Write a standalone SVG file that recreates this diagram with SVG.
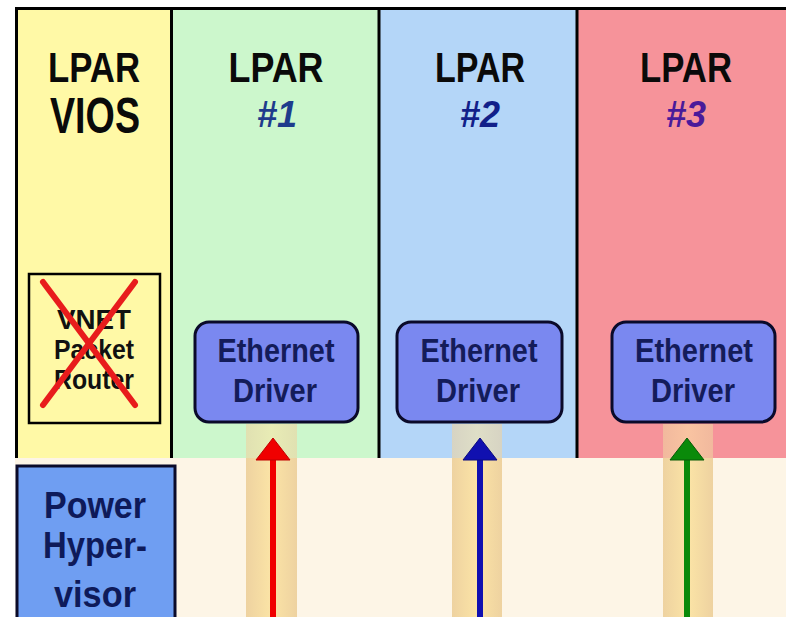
<svg xmlns="http://www.w3.org/2000/svg" width="786" height="617" viewBox="0 0 786 617">
<style>
.t{font-family:"Liberation Sans",Arial,sans-serif;font-weight:bold;text-anchor:middle}
.lp{font-size:42px;fill:#0a0a0a}
.num{font-size:36px;font-style:italic}
.eth{font-size:33px;fill:#141c5a}
.vn{font-size:27px;fill:#111}
.box{fill:#7a88f0;stroke:#0a0a2a;stroke-width:3}
.sep{stroke:#000;stroke-width:3}
</style>
<defs>
<linearGradient id="glow" x1="0" y1="0" x2="1" y2="0">
<stop offset="0" stop-color="#eed2a0"/>
<stop offset="0.5" stop-color="#fbe4a6"/>
<stop offset="1" stop-color="#eed2a0"/>
</linearGradient>
</defs>
<rect x="0" y="0" width="786" height="617" fill="#ffffff"/>
<rect x="15" y="458" width="771" height="159" fill="#fdf5e6"/>
<g id="col-vios">
<rect x="17" y="9" width="154" height="449" fill="#fff9a6"/>
<text class="t lp" x="94" y="82" textLength="92" lengthAdjust="spacingAndGlyphs">LPAR</text>
<text class="t" x="95" y="133" font-size="50" fill="#0a0a0a" textLength="90" lengthAdjust="spacingAndGlyphs">VIOS</text>
</g>
<g id="col-1">
<rect x="172" y="9" width="207" height="449" fill="#ccf7cc"/>
<text class="t lp" x="276" y="82" textLength="95" lengthAdjust="spacingAndGlyphs">LPAR</text>
<text class="t num" x="277" y="127" fill="#1e3c8c">#1</text>
</g>
<g id="col-2">
<rect x="380" y="9" width="197" height="449" fill="#b4d6f8"/>
<text class="t lp" x="480" y="82" textLength="90" lengthAdjust="spacingAndGlyphs">LPAR</text>
<text class="t num" x="480" y="127" fill="#12208a">#2</text>
</g>
<g id="col-3">
<rect x="578" y="9" width="208" height="449" fill="#f6939a"/>
<text class="t lp" x="686" y="82" textLength="92" lengthAdjust="spacingAndGlyphs">LPAR</text>
<text class="t num" x="686" y="127" fill="#4a1a9a">#3</text>
</g>
<g id="frame">
<line class="sep" x1="15" y1="8.5" x2="786" y2="8.5"/>
<line class="sep" x1="16.5" y1="7" x2="16.5" y2="458"/>
<line class="sep" x1="171.5" y1="7" x2="171.5" y2="458"/>
<line class="sep" x1="379" y1="7" x2="379" y2="458"/>
<line class="sep" x1="577" y1="7" x2="577" y2="458"/>
</g>
<g id="stripes">
<rect x="246" y="424" width="51" height="34" fill="url(#glow)" opacity="0.6"/>
<rect x="246" y="458" width="51" height="159" fill="url(#glow)"/>
<rect x="452" y="424" width="50" height="34" fill="url(#glow)" opacity="0.6"/>
<rect x="452" y="458" width="50" height="159" fill="url(#glow)"/>
<rect x="663" y="424" width="50" height="34" fill="url(#glow)" opacity="0.6"/>
<rect x="663" y="458" width="50" height="159" fill="url(#glow)"/>
</g>
<g id="vnet-router">
<rect x="29" y="274" width="131" height="149" fill="none" stroke="#000" stroke-width="2.5"/>
<text class="t vn" x="94" y="329" textLength="74" lengthAdjust="spacingAndGlyphs">VNET</text>
<text class="t vn" x="94" y="359" textLength="80" lengthAdjust="spacingAndGlyphs">Packet</text>
<text class="t vn" x="94" y="389" textLength="80" lengthAdjust="spacingAndGlyphs">Router</text>
<line x1="43" y1="282" x2="135" y2="405" stroke="#e81c1c" stroke-width="6" stroke-linecap="round"/>
<line x1="135" y1="282" x2="43" y2="405" stroke="#e81c1c" stroke-width="6" stroke-linecap="round"/>
</g>
<g id="eth-1">
<rect class="box" x="195" y="322" width="163" height="100" rx="14"/>
<text class="t eth" x="276" y="362" textLength="117" lengthAdjust="spacingAndGlyphs">Ethernet</text>
<text class="t eth" x="275" y="402" textLength="84" lengthAdjust="spacingAndGlyphs">Driver</text>
</g>
<g id="eth-2">
<rect class="box" x="397" y="322" width="165" height="100" rx="14"/>
<text class="t eth" x="479" y="362" textLength="117" lengthAdjust="spacingAndGlyphs">Ethernet</text>
<text class="t eth" x="478" y="402" textLength="84" lengthAdjust="spacingAndGlyphs">Driver</text>
</g>
<g id="eth-3">
<rect class="box" x="612" y="322" width="163" height="100" rx="14"/>
<text class="t eth" x="694" y="362" textLength="118" lengthAdjust="spacingAndGlyphs">Ethernet</text>
<text class="t eth" x="693" y="402" textLength="84" lengthAdjust="spacingAndGlyphs">Driver</text>
</g>
<g id="hypervisor">
<rect x="17" y="466" width="158" height="160" fill="#6f9ef2" stroke="#0a0a2a" stroke-width="3"/>
<text class="t" x="95" y="518" font-size="36" fill="#0e1a5a" textLength="102" lengthAdjust="spacingAndGlyphs">Power</text>
<text class="t" x="95" y="558" font-size="36" fill="#0e1a5a" textLength="104" lengthAdjust="spacingAndGlyphs">Hyper-</text>
<text class="t" x="95" y="607" font-size="36" fill="#0e1a5a" textLength="82" lengthAdjust="spacingAndGlyphs">visor</text>
</g>
<g id="connectors">
<line x1="273" y1="617" x2="273" y2="458" stroke="#f00000" stroke-width="6"/>
<polygon points="273,438 256,460 290,460" fill="#f00000" stroke="#c00000" stroke-width="1"/>
<line x1="480" y1="617" x2="480" y2="458" stroke="#1010b0" stroke-width="6"/>
<polygon points="480,438 463,460 497,460" fill="#1010b0" stroke="#0a0a80" stroke-width="1"/>
<line x1="687" y1="617" x2="687" y2="458" stroke="#0a8a0a" stroke-width="6"/>
<polygon points="687,438 670,460 704,460" fill="#0a8a0a" stroke="#065a06" stroke-width="1"/>
</g>
</svg>
